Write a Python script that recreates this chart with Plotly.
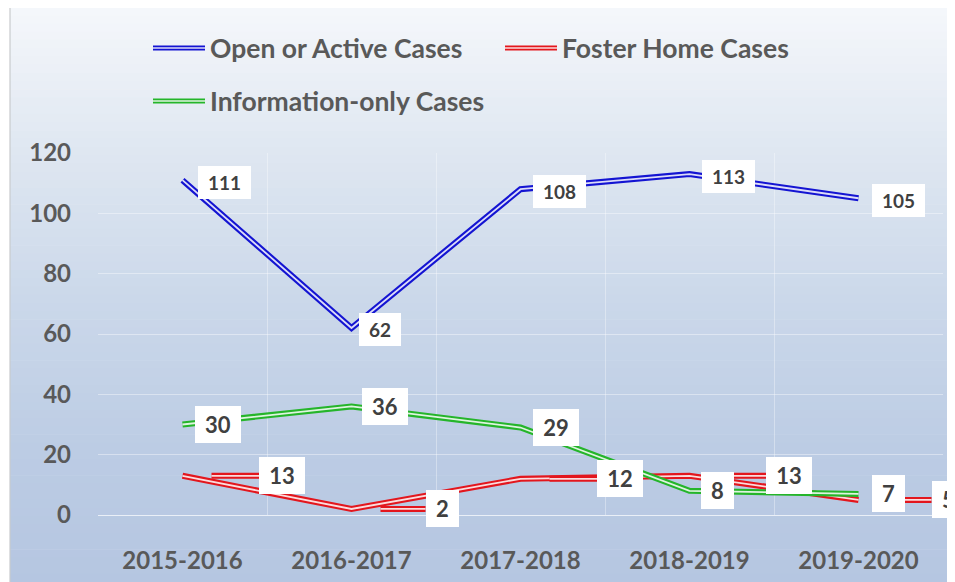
import plotly.graph_objects as go

years = ["2015-2016", "2016-2017", "2017-2018", "2018-2019", "2019-2020"]
open_cases = [111, 62, 108, 113, 105]
foster_cases = [13, 2, 12, 13, 5]
info_cases = [30, 36, 29, 8, 7]

series_names = ["Open or Active Cases", "Foster Home Cases", "Information-only Cases"]
series_values = [open_cases, foster_cases, info_cases]
series_colors = ["#1414d2", "#e3161d", "#25b52a"]

# label offsets (px) from each point, per series
label_dx = [[42, 28, 39, 39, 40], [99, 91, 99, 99, 90], [35, 33, 35, 28, 30]]
label_dy = [-2, 0, 0]
label_size = [19, 22, 22]
label_h = [33, 37, 37]

OFF = 8  # page body margin
W, H = 955, 582
PL, PR, PT, PB = 98 - OFF, 943 - OFF, 153 - OFF, 515 - OFF  # plot area in px


def px_x(p):
    return (p - OFF - PL) / (PR - PL)


def px_y(p):
    return (PB - (p - OFF)) / (PB - PT)


def grad_color(y):
    stops = [(7, (245, 247, 251)), (150, (223, 231, 241)), (300, (203, 216, 234)),
             (450, (188, 204, 228)), (582, (181, 198, 225))]
    for (y0, c0), (y1, c1) in zip(stops, stops[1:]):
        if y <= y1:
            t = (y - y0) / (y1 - y0)
            return "rgb(%d,%d,%d)" % tuple(round(a + (b - a) * t) for a, b in zip(c0, c1))
    return "rgb(%d,%d,%d)" % stops[-1][1]


fig = go.Figure()

shapes = []
# gradient chart background
n_bands = 70
band = (H - 7) / n_bands
for k in range(n_bands):
    y0 = 7 + k * band
    shapes.append(dict(type="rect", xref="paper", yref="paper", layer="below",
                       x0=px_x(10), x1=px_x(W + 12), y0=px_y(y0 + band + 0.6), y1=px_y(y0),
                       fillcolor=grad_color(y0 + band / 2), line_width=0))
shapes.append(dict(type="rect", xref="paper", yref="paper", layer="below",
                   x0=px_x(10), x1=px_x(W + 12), y0=px_y(H + 12), y1=px_y(7),
                   line=dict(color="#c9cbcd", width=1.2)))

for name, vals, col in zip(series_names, series_values, series_colors):
    fig.add_trace(go.Scatter(x=years, y=vals, mode="lines", name=name, showlegend=False,
                             line=dict(color=col, width=6)))
    fig.add_trace(go.Scatter(x=years, y=vals, mode="lines", showlegend=False, hoverinfo="skip",
                             line=dict(color="rgba(255,255,255,0.85)", width=1.8)))

annotations = []
for s, (vals, col) in enumerate(zip(series_values, series_colors)):
    digit_w = label_size[s] * 0.58
    for i, v in enumerate(vals):
        txt = str(v)
        annotations.append(dict(x=i, y=v, xref="x", yref="y", text=txt, showarrow=False,
                                xshift=label_dx[s][i], yshift=label_dy[s],
                                width=round(len(txt) * digit_w + 16), height=label_h[s] - 4,
                                font=dict(family="Lato", size=label_size[s], color="#404040",
                                          weight="bold"),
                                bgcolor="white", bordercolor="white", borderwidth=1,
                                borderpad=1))
        # red leader stubs next to the foster home labels
        if s == 1:
            half = 22 if v >= 10 else 17
            for wdt, c in [(6, col), (1.8, "rgba(255,255,255,0.85)")]:
                shapes.append(dict(type="line", xref="x", yref="y", layer="above",
                                   x0=i + 29 / 169, x1=i + (label_dx[s][i] - half) / 169,
                                   y0=v, y1=v, line=dict(color=c, width=wdt)))

# manual legend with double-line keys
legend_pos = [(153, 48), (505, 48), (153, 101)]
for (lx, ly), name, col in zip(legend_pos, series_names, series_colors):
    for wdt, c in [(5, col), (1.5, "rgba(255,255,255,0.85)")]:
        shapes.append(dict(type="line", xref="paper", yref="paper",
                           x0=px_x(lx), x1=px_x(lx + 52), y0=px_y(ly), y1=px_y(ly),
                           line=dict(color=c, width=wdt)))
    annotations.append(dict(x=px_x(lx + 55), y=px_y(ly), xref="paper", yref="paper",
                            text=name, showarrow=False, xanchor="left", yanchor="middle",
                            font=dict(family="Lato", size=26.5, color="#595959", weight="bold")))

axis_font = dict(family="Lato", size=24, color="#595959", weight="bold")
fig.update_layout(
    width=W, height=H,
    margin=dict(l=PL, r=W - PR, t=PT, b=H - PB, pad=0),
    paper_bgcolor="white", plot_bgcolor="rgba(0,0,0,0)",
    shapes=shapes, annotations=annotations,
    xaxis=dict(range=[-0.5, 4.5], tickfont=axis_font, showgrid=True, tickson="boundaries",
               gridcolor="rgba(255,255,255,0.35)", showline=True, linecolor="rgba(255,255,255,0.7)",
               ticks="", ticklabelstandoff=24, fixedrange=True),
    yaxis=dict(range=[0, 120], dtick=20, tickfont=axis_font, showgrid=True,
               gridcolor="rgba(255,255,255,0.4)", zeroline=False, ticks="",
               ticklabelstandoff=26, fixedrange=True),
)

fig.write_html("out.html")
